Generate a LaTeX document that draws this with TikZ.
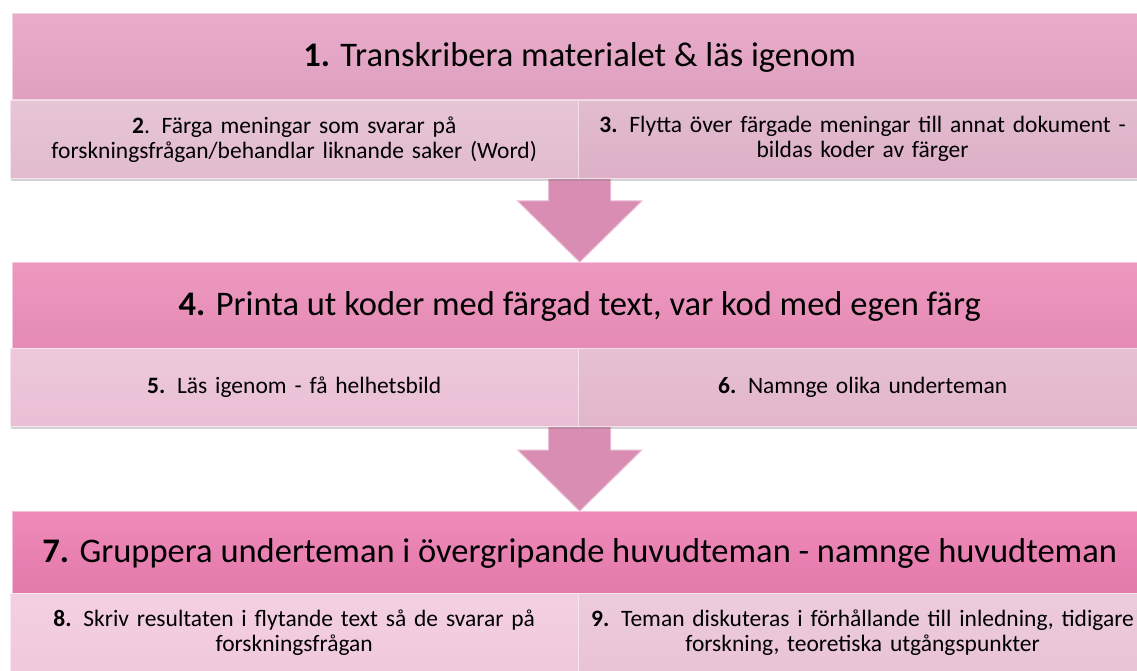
\documentclass[tikz,border=0pt]{standalone}
\usepackage{fontspec}
\setmainfont{Carlito}
\usetikzlibrary{shadows,calc,positioning}
\pgfdeclarelayer{background}
\pgfsetlayers{background,main}
\definecolor{rosaA}{HTML}{E6A5C5}
\definecolor{rosaB}{HTML}{EC8FBA}
\definecolor{rosaC}{HTML}{EE80B3}
\definecolor{ljusA}{HTML}{E2BBCF}
\definecolor{ljusAr}{HTML}{DDB0C7}
\definecolor{ljusB}{HTML}{EABFD5}
\definecolor{ljusBr}{HTML}{E2B5CB}
\definecolor{ljusC}{HTML}{F1C8DC}
\definecolor{ljusCr}{HTML}{E9C3D6}
\definecolor{pilrosa}{HTML}{D98DB3}
\tikzstyle{rubrik}=[anchor=north west, inner sep=0pt, minimum width=1135pt,
  minimum height=86pt, text depth=4pt, font=\fontsize{34.5}{40}\selectfont]
\tikzstyle{steg}=[anchor=north west, inner sep=0pt, minimum width=568pt,
  minimum height=78pt, text width=560pt, align=center,
  font=\fontsize{23.5}{25}\selectfont,
  drop shadow={opacity=0.35, shadow xshift=1pt, shadow yshift=-3pt}]
\tikzstyle{pil}=[fill=pilrosa, draw=white!40!pilrosa, line width=1pt]
\newcommand{\blockpil}[2]{%
  \begin{pgfonlayer}{background}
    % tip of the arrow on top of the next band
    \path (#2.north) coordinate (spets);
    \path[pil] (spets) -- ++(-62,-61) -- ++(31,0)
      -- ($(#1.south)+(-31,0)$) -- ($(#1.south)+(31,0)$)
      -- ($(spets)+(31,-61)$) -- ++(31,0) -- cycle;
  \end{pgfonlayer}}

\begin{document}
\begin{tikzpicture}[x=1pt,y=-1pt]
  \useasboundingbox (0,0) rectangle (1137,671);
  \clip (0,0) rectangle (1137,671);

  % first band
  \node (H1) [rubrik, top color=rosaA!92!white, bottom color=rosaA!97!black,
    draw=white!50!rosaA] at (12,13)
    {\textbf{1.} Transkribera materialet \& läs igenom};
  \node (S2) [steg, top color=ljusA!85!white, bottom color=ljusA,
    draw=white!60!ljusA] at (10,100)
    {\textbf{2}. Färga meningar som svarar på\\
     forskningsfrågan/behandlar liknande saker (Word)};
  \node (S3) [steg, top color=ljusAr!85!white, bottom color=ljusAr,
    draw=white!60!ljusAr] at (S2.north east)
    {\textbf{3.} Flytta över färgade meningar till annat dokument -\\
     bildas koder av färger};

  % second band
  \node (H2) [rubrik, top color=rosaB!92!white, bottom color=rosaB!97!black,
    draw=white!50!rosaB] at (12,262)
    {\textbf{4.} Printa ut koder med färgad text, var kod med egen färg};
  \node (S5) [steg, top color=ljusB!85!white, bottom color=ljusB,
    draw=white!60!ljusB] at (10,348)
    {\textbf{5.} Läs igenom - få helhetsbild};
  \node (S6) [steg, top color=ljusBr!85!white, bottom color=ljusBr,
    draw=white!60!ljusBr] at (S5.north east)
    {\textbf{6.} Namnge olika underteman};

  % third band
  \node (H3) [rubrik, minimum height=82pt, top color=rosaC!92!white,
    bottom color=rosaC!95!black, draw=white!50!rosaC] at (12,511)
    {\textbf{7.} Gruppera underteman i övergripande huvudteman - namnge huvudteman};
  \node (S8) [steg, top color=ljusC!85!white, bottom color=ljusC,
    draw=white!60!ljusC] at (10,593)
    {\textbf{8.} Skriv resultaten i flytande text så de svarar på\\
     forskningsfrågan};
  \node (S9) [steg, top color=ljusCr!85!white, bottom color=ljusCr,
    draw=white!60!ljusCr] at (S8.north east)
    {\textbf{9.} Teman diskuteras i förhållande till inledning, tidigare\\
     forskning, teoretiska utgångspunkter};

  % block arrows between the bands
  \blockpil{H1}{H2}
  \blockpil{H2}{H3}

\end{tikzpicture}
\end{document}
